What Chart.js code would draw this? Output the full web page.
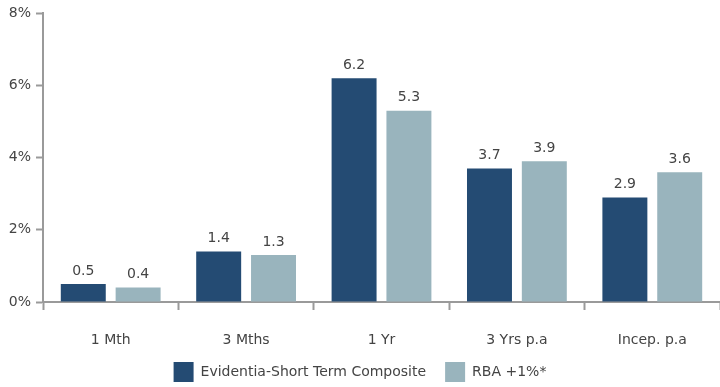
<!DOCTYPE html>
<html>
<head>
<meta charset="utf-8">
<script src="https://cdn.jsdelivr.net/npm/chart.js@4/dist/chart.umd.min.js"></script>
<style>
  html, body { margin: 0; padding: 0; background: #fff; }
  #wrap { width: 720px; height: 387px; position: relative; }
</style>
</head>
<body>
<div id="wrap"><canvas id="c"></canvas></div>
<script>
// Period returns, in percent
const categories = ['1 Mth', '3 Mths', '1 Yr', '3 Yrs p.a', 'Incep. p.a'];
const compositeReturns = [0.5, 1.4, 6.2, 3.7, 2.9];
const benchmarkReturns = [0.4, 1.3, 5.3, 3.9, 3.6];
const seriesNames = ['Evidentia-Short Term Composite', 'RBA +1%*'];
const yTicks = [0, 2, 4, 6, 8];

const FONT = 'DejaVu Sans, Verdana, sans-serif';
const TEXT = '#444444';
const AXIS = '#9a9a9a';

// Writes each bar's value just above it
const valueLabels = {
  id: 'valueLabels',
  afterDatasetsDraw(chart) {
    const ctx = chart.ctx;
    ctx.save();
    ctx.font = '14px ' + FONT;
    ctx.fillStyle = TEXT;
    ctx.textAlign = 'center';
    ctx.textBaseline = 'bottom';
    chart.data.datasets.forEach((ds, i) => {
      chart.getDatasetMeta(i).data.forEach((bar, j) => {
        ctx.fillText(ds.data[j].toFixed(1), bar.x, bar.y - 6);
      });
    });
    ctx.restore();
  }
};

// Category labels sit low, close to the legend: widen the x scale's label clip
const roomForCategoryLabels = {
  id: 'roomForCategoryLabels',
  afterLayout(chart) {
    chart.scales.x.bottom += 10;
  }
};

new Chart(document.getElementById('c'), {
  type: 'bar',
  data: {
    labels: categories,
    datasets: [
      { label: seriesNames[0], data: compositeReturns, backgroundColor: '#244b73' },
      { label: seriesNames[1], data: benchmarkReturns, backgroundColor: '#99b4bd' }
    ]
  },
  options: {
    responsive: true,
    maintainAspectRatio: false,
    animation: false,
    categoryPercentage: 0.81,
    barPercentage: 0.82,
    layout: { padding: { top: 13, right: 0, bottom: -5, left: 0 } },
    plugins: {
      tooltip: { enabled: false },
      legend: {
        position: 'bottom',
        labels: {
          boxWidth: 20,
          boxHeight: 20,
          padding: 19,
          color: TEXT,
          font: { family: FONT, size: 14 }
        }
      }
    },
    scales: {
      x: {
        grid: { display: true, drawOnChartArea: false, drawTicks: true, tickLength: 8, tickColor: AXIS, tickWidth: 2, offset: true },
        border: { color: AXIS, width: 2 },
        ticks: { color: TEXT, font: { family: FONT, size: 14 }, padding: 22, autoSkip: false, maxRotation: 0 },
        afterFit(scale) { scale.height = 41; }
      },
      y: {
        min: 0,
        max: 8,
        afterBuildTicks(scale) { scale.ticks = yTicks.map(v => ({ value: v })); },
        grid: { drawOnChartArea: false, drawTicks: true, tickLength: 7, tickColor: AXIS, tickWidth: 2 },
        border: { color: AXIS, width: 2 },
        ticks: {
          color: TEXT,
          font: { family: FONT, size: 14 },
          padding: 5,
          callback: v => v + '%'
        },
        afterFit(scale) { scale.width = 43; }
      }
    }
  },
  plugins: [valueLabels, roomForCategoryLabels]
});
</script>
</body>
</html>
